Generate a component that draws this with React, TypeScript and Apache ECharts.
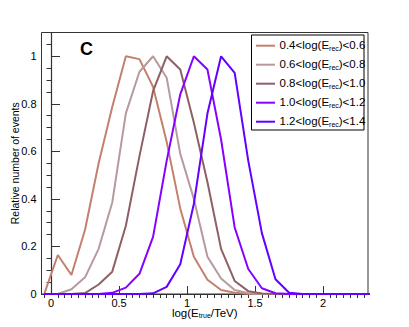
import React, { useEffect, useRef } from "react";
import * as echarts from "echarts";

const binCenters = [-0.05, 0.05, 0.15, 0.25, 0.35, 0.45, 0.55, 0.65, 0.75, 0.85, 0.95, 1.05, 1.15, 1.25, 1.35, 1.45, 1.55, 1.65, 1.75, 1.85, 1.95, 2.05, 2.15, 2.25, 2.35];

const bin04 = [0, 0.164, 0.08, 0.27, 0.55, 0.787, 1.0, 0.988, 0.872, 0.64, 0.36, 0.157, 0.06, 0.017, 0.005, 0.001, 0, 0, 0, 0, 0, 0, 0, 0, 0];
const bin06 = [0, 0, 0.02, 0.07, 0.19, 0.385, 0.76, 0.935, 1.0, 0.91, 0.59, 0.4, 0.157, 0.065, 0.017, 0.003, 0, 0, 0, 0, 0, 0, 0, 0, 0];
const bin08 = [0, 0, 0, 0.004, 0.04, 0.094, 0.287, 0.58, 0.853, 1.0, 0.944, 0.72, 0.47, 0.19, 0.055, 0.012, 0.002, 0, 0, 0, 0, 0, 0, 0, 0];
const bin10 = [0, 0, 0, 0, 0, 0.005, 0.027, 0.085, 0.24, 0.56, 0.84, 1.0, 0.944, 0.65, 0.28, 0.105, 0.024, 0.003, 0, 0, 0, 0, 0, 0, 0];
const bin12 = [0, 0, 0, 0, 0, 0, 0, 0, 0.003, 0.03, 0.125, 0.38, 0.76, 1.0, 0.93, 0.56, 0.256, 0.062, 0.005, 0, 0, 0, 0, 0, 0];

const seriesValues = [bin04, bin06, bin08, bin10, bin12];
const rangeLow = ["0.4", "0.6", "0.8", "1.0", "1.2"];
const rangeHigh = ["0.6", "0.8", "1.0", "1.2", "1.4"];
const colors = ["#c4806f", "#b69a9c", "#8e6066", "#8800ff", "#6400ff"];

const xMajorTicks = [0, 0.5, 1, 1.5, 2];
const xMinorTicks = [-0.05, 0.05, 0.1, 0.15, 0.2, 0.25, 0.3, 0.35, 0.4, 0.45, 0.55, 0.6, 0.65, 0.7, 0.75, 0.8, 0.85, 0.9, 0.95, 1.05, 1.1, 1.15, 1.2, 1.25, 1.3, 1.35, 1.4, 1.45, 1.55, 1.6, 1.65, 1.7, 1.75, 1.8, 1.85, 1.9, 1.95, 2.05, 2.1, 2.15, 2.2, 2.25, 2.3];
const yMajorTicks = [0, 0.2, 0.4, 0.6, 0.8, 1];
const yMinorTicks = [0.05, 0.1, 0.15, 0.25, 0.3, 0.35, 0.45, 0.5, 0.55, 0.65, 0.7, 0.75, 0.85, 0.9, 0.95, 1.05];

const X_MIN = -0.07;
const X_MAX = 2.33;
const Y_MIN = 0;
const Y_MAX = 1.1;

const FONT = "Liberation Sans, Arial, Helvetica, sans-serif";

export default function App() {
  const ref = useRef<HTMLDivElement>(null);
  useEffect(() => {
    if (!ref.current) return;
    const chart = echarts.init(ref.current, undefined, { renderer: "svg" });
    const axisLine = { show: true, lineStyle: { color: "#333", width: 1.2 } };
    const baseX = {
      type: "value" as const,
      min: X_MIN,
      max: X_MAX,
      axisLine,
      splitLine: { show: false },
    };
    const baseY = {
      type: "value" as const,
      min: Y_MIN,
      max: Y_MAX,
      axisLine,
      splitLine: { show: false },
    };
    const legendItems: any[] = [];
    const lx = 251.5, ly = 35, lw = 112.5, lh = 95;
    legendItems.push({
      type: "rect",
      shape: { x: lx, y: ly, width: lw, height: lh },
      style: { fill: "#fff", stroke: "#000", lineWidth: 1 },
      z: 100,
    });
    rangeLow.forEach((lo, i) => {
      const cy = 45.7 + i * 19;
      legendItems.push({
        type: "line",
        shape: { x1: 256, y1: cy, x2: 275, y2: cy },
        style: { stroke: colors[i], lineWidth: 2 },
        z: 101,
      });
      legendItems.push({
        type: "text",
        x: 279.5,
        y: cy - 6.5,
        z: 101,
        style: {
          text: `{b|${lo}<log(E}{s|rec}{b|)<${rangeHigh[i]}}`,
          fill: "#000",
          rich: {
            b: { fontSize: 11.5, fontFamily: FONT, lineHeight: 13, verticalAlign: "top", fill: "#000" },
            s: { fontSize: 7, fontFamily: FONT, lineHeight: 8, verticalAlign: "bottom", fill: "#000", padding: [11, 0, 0, 0] },
          },
        },
      });
    });
    chart.setOption({
      animation: false,
      grid: { left: 41.5, right: 41, top: 32.5, bottom: 33, show: true, borderColor: "#333", borderWidth: 1, backgroundColor: "transparent", outerBoundsMode: "none", containLabel: false },
      xAxis: [
        {
          ...baseX,
          name: "{b|log(E}{s|true}{b|/TeV)}",
          nameLocation: "middle",
          nameGap: 13,
          nameMoveOverlap: false,
          nameTextStyle: {
            color: "#000",
            rich: {
              b: { fontSize: 11.5, fontFamily: FONT, lineHeight: 12, verticalAlign: "top", color: "#000" },
              s: { fontSize: 7, fontFamily: FONT, lineHeight: 8, color: "#000", verticalAlign: "bottom", padding: [10, 0, 0, 0] },
            },
          },
          axisTick: { show: true, inside: true, length: 8, lineStyle: { color: "#333" }, customValues: xMajorTicks },
          axisLabel: { show: true, customValues: xMajorTicks, fontSize: 11, fontFamily: FONT, color: "#000", margin: 3 },
        },
        {
          ...baseX,
          axisLine: { show: false },
          axisTick: { show: true, inside: true, length: 4, lineStyle: { color: "#333" }, customValues: xMinorTicks },
          axisLabel: { show: false },
        },
      ],
      yAxis: [
        {
          ...baseY,
          name: "Relative number of events",
          nameLocation: "middle",
          nameGap: 21,
          nameMoveOverlap: false,
          nameTextStyle: { fontSize: 10.5, fontFamily: FONT, color: "#000" },
          axisTick: { show: true, inside: true, length: 9, lineStyle: { color: "#333" }, customValues: yMajorTicks },
          axisLabel: { show: true, customValues: yMajorTicks, fontSize: 11, fontFamily: FONT, color: "#000", margin: 5 },
        },
        {
          ...baseY,
          axisLine: { show: false },
          axisTick: { show: true, inside: true, length: 4.5, lineStyle: { color: "#333" }, customValues: yMinorTicks },
          axisLabel: { show: false },
        },
      ],
      graphic: [
        {
          type: "text",
          x: 80,
          y: 40,
          style: { text: "C", fontSize: 18, fontWeight: "bold", fontFamily: FONT, fill: "#000" },
        },
        ...legendItems,
      ],
      series: seriesValues.map((vals, i) => ({
        type: "line",
        name: `${rangeLow[i]}<log(E_rec)<${rangeHigh[i]}`,
        xAxisIndex: 0,
        yAxisIndex: 0,
        data: binCenters.map((x, k) => [x, vals[k]]),
        showSymbol: false,
        symbol: "none",
        lineStyle: { color: colors[i], width: 2 },
        itemStyle: { color: colors[i] },
        clip: true,
        z: 2 + i,
      })),
    });
    return () => chart.dispose();
  }, []);
  return <div ref={ref} style={{ width: 409, height: 327, position: "absolute", left: 0, top: 0, background: "#fff" }} />;
}
